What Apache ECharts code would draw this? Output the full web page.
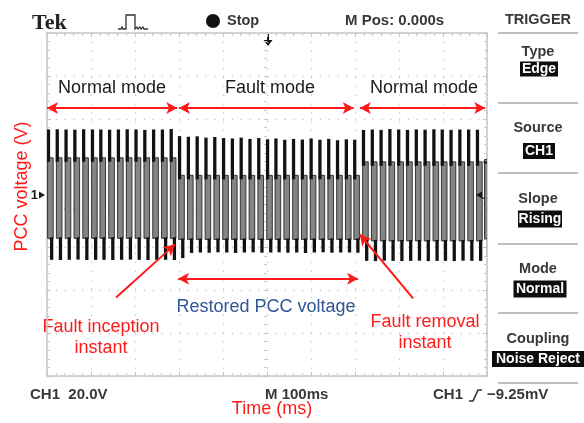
<!DOCTYPE html>
<html><head><meta charset="utf-8">
<script src="https://cdn.jsdelivr.net/npm/echarts@6/dist/echarts.min.js"></script>
<style>html,body{margin:0;padding:0;background:#fff}#c{width:584px;height:423px}</style>
</head><body><div id="c"></div>
<script>
// ---- data ----
// one entry per displayed 50 Hz cycle (time of the cycle's trace column, ms)
const cycleTimes = [5,25,45,65,85,105,124,144,164,184,204,224,244,264,284,
  303,323,343,363,383,403,423,443,463,483,503,522,542,562,582,602,622,642,662,682,701,
  721,741,761,781,801,821,841,861,881,900,920,940,960,980,998];
// positive peak of each cycle (V)
const peakHigh = [35.0,35.1,35.0,34.9,35.1,35.0,35.0,34.9,35.0,35.1,35.0,34.8,35.0,35.0,35.2,
  31.9,31.6,31.8,31.2,31.5,31.0,30.8,31.2,30.6,31.0,30.4,30.8,30.2,30.6,30.3,30.8,30.2,30.6,30.0,30.4,30.2,
  34.8,35.0,34.8,35.2,35.0,34.8,35.0,34.9,35.1,35.0,34.8,35.0,35.0,34.9,
  20.0];
// level where the bright upper part of each trace column ends (V)
const kneeHigh = [20.4,20.4,20.4,20.4,20.4,20.4,20.4,20.4,20.4,20.4,20.4,20.4,20.4,20.4,20.4,
  12.2,12.2,12.2,12.2,12.2,12.2,12.2,12.2,12.2,12.2,12.2,12.2,12.2,12.2,12.2,12.2,12.2,12.2,12.2,12.2,12.2,
  18.5,18.5,18.5,18.5,18.5,18.5,18.5,18.5,18.5,18.5,18.5,18.5,18.5,18.5,
  19.6];
// level where the bright lower part of each trace column starts (V)
const kneeLow = [-15.8,-15.8,-15.8,-15.8,-15.8,-15.8,-15.8,-15.8,-15.8,-15.8,-15.8,-15.8,-15.8,-15.8,-15.8,
  -16.3,-16.3,-16.3,-16.3,-16.3,-16.3,-16.3,-16.3,-16.3,-16.3,-16.3,-16.3,-16.3,-16.3,-16.3,-16.3,-16.3,-16.3,-16.3,-16.3,-16.3,
  -17.0,-17.0,-17.0,-17.0,-17.0,-17.0,-17.0,-17.0,-17.0,-17.0,-17.0,-17.0,-17.0,-17.0,
  -16.0];
// negative peak of each cycle (V)
const peakLow = [-25.8,-25.9,-25.8,-25.7,-25.9,-25.8,-25.8,-25.9,-25.8,-25.7,-25.8,-25.9,-25.8,-25.8,-25.9,
  -25.0,-22.6,-22.4,-22.5,-22.3,-22.4,-22.6,-22.4,-22.3,-22.5,-22.4,-22.3,-22.5,-22.4,-22.6,-22.4,-22.3,-22.5,-22.4,-22.4,-22.5,
  -26.3,-26.4,-26.2,-26.3,-26.4,-26.3,-26.2,-26.4,-26.3,-26.3,-26.4,-26.2,-26.3,-26.3,
  -24.0];
const groundLevel = 4.4;          // V, channel-1 ground marker
const faultStart = 298;           // ms
const faultEnd = 707;             // ms
const modeArrowLevel = 45;        // V
const restoredArrowLevel = -34.6; // V
const timeTicks = {min:0, max:1000, interval:100};
const voltTicks = {min:-80, max:80, interval:20};

// ---- chart ----
const RED = '#ff1a1a';
const SCOPE_FONT = '"Liberation Sans", Arial, sans-serif';
const TXT = '#383838';
const chart = echarts.init(document.getElementById('c'), null, {renderer:'canvas'});
const waveData = cycleTimes.map((t,i)=>[t, peakHigh[i], kneeHigh[i], kneeLow[i], peakLow[i]]);

function renderCycle(params, api){
  const t = api.value(0);
  const pTop = api.coord([t, api.value(1)]);
  const pKH = api.coord([t, api.value(2)]);
  const pKL = api.coord([t, api.value(3)]);
  const pBot = api.coord([t, api.value(4)]);
  const x = pTop[0];
  return {type:'group', children:[
    {type:'rect', shape:{x:x-1.6, y:pKH[1]-3, width:5.6, height:pKL[1]-pKH[1]+3},
      style:{fill:'#858585', stroke:'#262626', lineWidth:0.9}},
    {type:'rect', shape:{x:x-2.4, y:pTop[1], width:3.3, height:pKH[1]-pTop[1]+1}, style:{fill:'#121212'}},
    {type:'rect', shape:{x:x+0.8, y:pKL[1]-1, width:3.3, height:pBot[1]-pKL[1]+1}, style:{fill:'#121212'}}
  ]};
}

const gridLine = {color:'#c4c4c4', width:1.5};
function borderX(pos){
  return {type:'value', ...timeTicks, position:pos, axisLine:{onZero:false, lineStyle:gridLine},
    axisTick:{show:true, inside:true, length:4, lineStyle:{color:'#c4c4c4'}},
    minorTick:{show:true, splitNumber:5, length:3, lineStyle:{color:'#cacaca'}},
    axisLabel:{show:false}, splitLine:{show:false}};
}
function borderY(pos){
  return {type:'value', ...voltTicks, position:pos, axisLine:{onZero:false, lineStyle:gridLine},
    axisTick:{show:true, inside:true, length:4, lineStyle:{color:'#c4c4c4'}},
    minorTick:{show:true, splitNumber:5, length:3, lineStyle:{color:'#cacaca'}},
    axisLabel:{show:false}, splitLine:{show:false}};
}
const xMain = borderX('bottom');
xMain.splitLine = {show:true, lineStyle:{color:'#c8c8c8', width:1.3, type:[1.3,7.5]}};
xMain.name = 'Time (ms)';
xMain.nameLocation = 'middle';
xMain.nameGap = 24;
xMain.nameTextStyle = {color:RED, fontSize:18, fontFamily:'"Liberation Sans", Arial, sans-serif', padding:[0,0,0,10]};
const yMain = borderY('left');
yMain.splitLine = {show:true, lineStyle:{color:'#c8c8c8', width:1.3, type:[1.3,7.5]}};
yMain.name = 'PCC voltage (V)';
yMain.nameLocation = 'middle';
yMain.nameRotate = 90;
yMain.nameGap = 16;
yMain.nameTextStyle = {color:RED, fontSize:18, fontFamily:'"Liberation Sans", Arial, sans-serif', padding:[0,0,0,36]};
const xCenter = borderX('bottom'); xCenter.offset = -174.5; xCenter.axisLine = {show:false};
xCenter.axisTick = {show:true, length:3, lineStyle:{color:'#c4c4c4'}};
const yCenter = borderY('left'); yCenter.offset = -220; yCenter.axisLine = {show:false};
yCenter.axisTick = {show:true, length:3, lineStyle:{color:'#c4c4c4'}};

const arrowLine = (a, b, s1, s2) => [{coord:a, symbol:s1}, {coord:b, symbol:s2}];

const option = {
  animation:false,
  backgroundColor:'#ffffff',
  grid:{left:47, top:33, width:440, height:349},
  xAxis:[xMain, borderX('top'), xCenter],
  yAxis:[yMain, borderY('right'), yCenter],
  series:[{
    type:'custom', name:'CH1', xAxisIndex:0, yAxisIndex:0, clip:true, z:3,
    renderItem:renderCycle, encode:{x:0, y:[1,2,3,4]}, data:waveData, silent:true,
    markLine:{silent:true, symbolSize:[9,11], label:{show:false}, emphasis:{disabled:true},
      lineStyle:{color:RED, width:2, type:'solid'},
      data:[
        arrowLine([0,modeArrowLevel],[faultStart-2,modeArrowLevel],'arrow','arrow'),
        arrowLine([faultStart+2,modeArrowLevel],[faultEnd-10,modeArrowLevel],'arrow','arrow'),
        arrowLine([faultEnd+4,modeArrowLevel],[996,modeArrowLevel],'arrow','arrow'),
        arrowLine([faultStart,restoredArrowLevel],[faultEnd,restoredArrowLevel],'arrow','arrow'),
        arrowLine([157,-43.4],[faultStart-7,-18.6],'none','arrow'),
        arrowLine([832,-43.8],[faultEnd+4,-14],'none','arrow')
      ]},
    markPoint:{silent:true, data:[
      {coord:[0,groundLevel], symbol:'triangle', symbolRotate:-90, symbolSize:[7,6], symbolOffset:[-5,0],
        itemStyle:{color:'#1a1a1a'},
        label:{show:true, formatter:'1', position:'left', distance:1, color:'#1a1a1a', fontSize:13, fontWeight:'bold', fontFamily:SCOPE_FONT}},
      {coord:[1000,groundLevel], symbol:'triangle', symbolRotate:90, symbolSize:[7,6], symbolOffset:[-8,0],
        itemStyle:{color:'#1a1a1a'}, label:{show:false}}
    ]}
  }],
  graphic:[
    // header
    {type:'text', left:32, top:12, style:{text:'Tek', font:'bold 22px "Liberation Serif", serif', fill:'#222'}},
    {type:'polyline', shape:{points:[[118,29],[121,29],[122,27],[123,29],[126,29],[126,15],[135,15],[135,29],[137,27],[138,29],[140,27],[141,29],[143,27],[144,29],[148,29]]},
      style:{stroke:'#333', lineWidth:1.3, fill:null}},
    {type:'circle', shape:{cx:213, cy:21, r:7}, style:{fill:'#111'}},
    {type:'text', left:227, top:13, style:{text:'Stop', font:'bold 14.5px '+SCOPE_FONT, fill:TXT}},
    {type:'text', left:345, top:13, style:{text:'M Pos: 0.000s', font:'bold 15px '+SCOPE_FONT, fill:TXT}},
    {type:'text', x:538, y:20, style:{text:'TRIGGER', font:'bold 14.5px '+SCOPE_FONT, fill:TXT, align:'center', verticalAlign:'middle'}},
    // trigger position marker
    {type:'line', shape:{x1:268, y1:34, x2:268, y2:41}, style:{stroke:'#111', lineWidth:2}},
    {type:'polygon', shape:{points:[[263.5,40],[272.5,40],[268,46]]}, style:{fill:'#111'}},
    // right trigger level stub
    {type:'line', shape:{x1:481, y1:198, x2:488, y2:198}, style:{stroke:'#111', lineWidth:1.2}},
    // right menu separators
    ...[33,103,173,244,313,383].map(y=>({type:'line', shape:{x1:498, y1:y, x2:578, y2:y}, style:{stroke:'#a8a8a8', lineWidth:1.5}})),
    // menu labels
    ...[['Type',52],['Source',128],['Slope',199],['Mode',269],['Coupling',339]].map(([t,y])=>({
      type:'text', x:538, y:y, style:{text:t, font:'bold 14.5px '+SCOPE_FONT, fill:TXT, align:'center', verticalAlign:'middle'}})),
    // menu value boxes
    ...[['Edge',539,69,38,15],['CH1',539,151,32,16],['Rising',540,219,44,17],['Normal',540,289,53,17],['Noise Reject',538,359,92,16]].map(([t,cx,cy,w,h])=>({
      type:'group', children:[
        {type:'rect', shape:{x:cx-w/2, y:cy-h/2, width:w, height:h}, style:{fill:'#0d0d0d'}},
        {type:'text', x:cx, y:cy+0.5, style:{text:t, font:'bold 14px '+SCOPE_FONT, fill:'#fff', align:'center', verticalAlign:'middle'}}
      ]})),
    // bottom status line
    {type:'text', left:30, top:387, style:{text:'CH1  20.0V', font:'bold 15px '+SCOPE_FONT, fill:TXT}},
    {type:'text', left:265, top:387, style:{text:'M 100ms', font:'bold 15px '+SCOPE_FONT, fill:TXT}},
    {type:'text', left:433, top:387, style:{text:'CH1', font:'bold 15px '+SCOPE_FONT, fill:TXT}},
    {type:'polyline', shape:{points:[[469,401],[473,401],[478,390],[482,390]]}, style:{stroke:'#333', lineWidth:1.6, fill:null}},
    {type:'text', left:487, top:387, style:{text:'\u22129.25mV', font:'bold 15px '+SCOPE_FONT, fill:TXT}},
    // annotations
    {type:'text', x:112, y:88, style:{text:'Normal mode', font:'18px "Liberation Sans", Arial, sans-serif', fill:'#1a1a1a', align:'center', verticalAlign:'middle'}},
    {type:'text', x:270, y:88, style:{text:'Fault mode', font:'18px "Liberation Sans", Arial, sans-serif', fill:'#1a1a1a', align:'center', verticalAlign:'middle'}},
    {type:'text', x:424, y:88, style:{text:'Normal mode', font:'18px "Liberation Sans", Arial, sans-serif', fill:'#1a1a1a', align:'center', verticalAlign:'middle'}},
    {type:'text', x:266, y:307, style:{text:'Restored PCC voltage', font:'18px "Liberation Sans", Arial, sans-serif', fill:'#2f5597', align:'center', verticalAlign:'middle'}},
    {type:'text', x:101, y:338, style:{text:'Fault inception\ninstant', font:'18px "Liberation Sans", Arial, sans-serif', fill:RED, align:'center', verticalAlign:'middle', lineHeight:21}},
    {type:'text', x:425, y:333, style:{text:'Fault removal\ninstant', font:'18px "Liberation Sans", Arial, sans-serif', fill:RED, align:'center', verticalAlign:'middle', lineHeight:21}}
  ]
};
chart.setOption(option);
</script>
</body></html>
